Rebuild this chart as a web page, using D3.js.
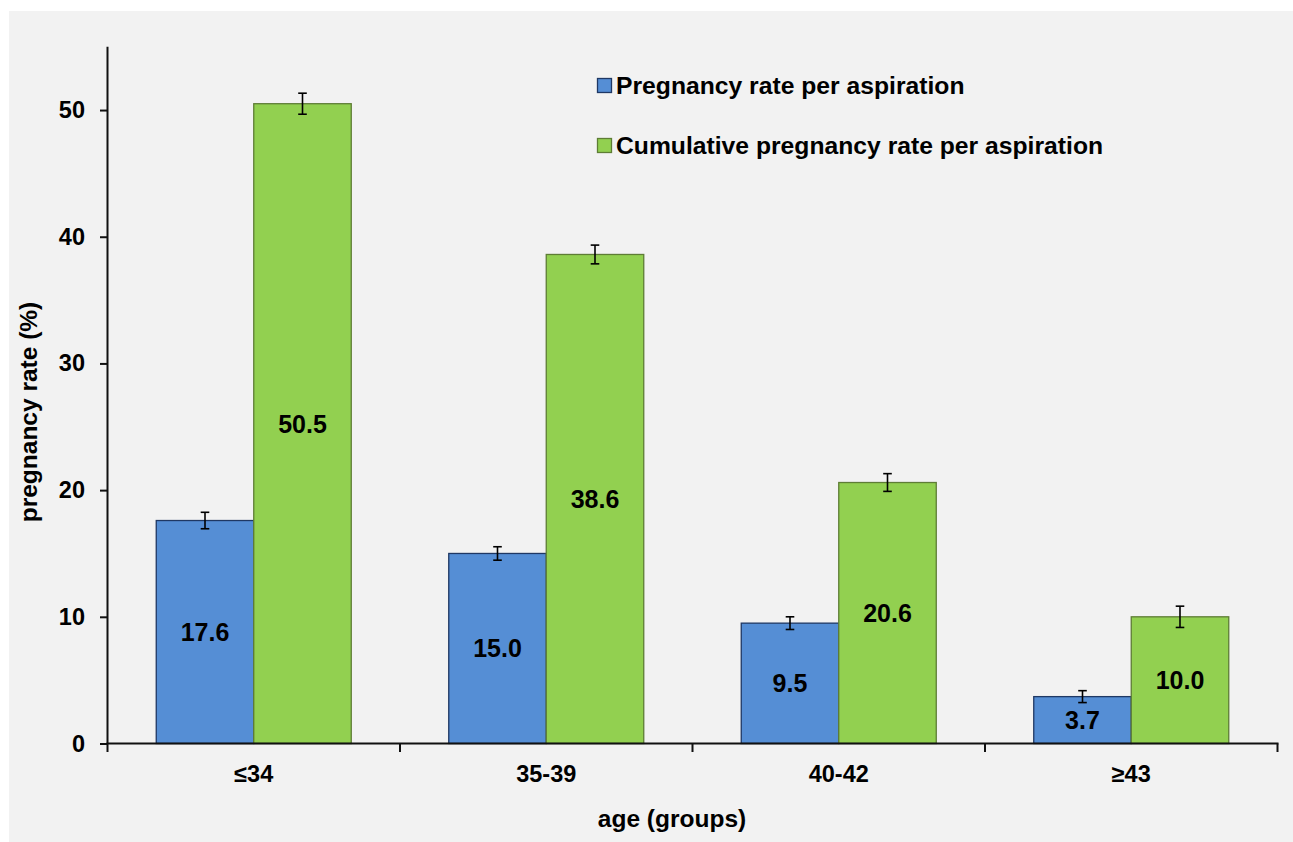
<!DOCTYPE html>
<html><head><meta charset="utf-8">
<script src="https://cdn.jsdelivr.net/npm/d3@7"></script>
<style>
html,body{margin:0;padding:0;background:#fff;}
text{font-family:"Liberation Sans",Arial,sans-serif;font-weight:bold;fill:#000;}
</style></head>
<body>
<svg id="chart" width="1293" height="842"></svg>
<script>
const categories = ["≤34", "35-39", "40-42", "≥43"];
const seriesNames = ["Pregnancy rate per aspiration", "Cumulative pregnancy rate per aspiration"];
const pregnancyRate = [17.6, 15.0, 9.5, 3.7];
const cumulativeRate = [50.5, 38.6, 20.6, 10.0];
const pregnancyErr = [0.65, 0.53, 0.5, 0.47];
const cumulativeErr = [0.83, 0.74, 0.7, 0.84];
const yTicks = [0, 10, 20, 30, 40, 50];
const fills = ["#558ed5", "#92d050"];
const strokes = ["#1f3864", "#5e7d35"];

(function () {
const svg = d3.select("#chart");
svg.append("rect").attr("x", 9).attr("y", 11).attr("width", 1284).attr("height", 831).attr("fill", "#f2f2f2");

const pLeft = 107.5, pRight = 1277.5, pTop = 46.7, pBottom = 743.5;
const x0 = d3.scaleBand().domain(categories).range([pLeft, pRight]).padding(0);
const bw = x0.bandwidth();
const x1 = d3.scaleBand().domain([0, 1]).range([bw / 6, bw * 5 / 6]).padding(0);
const y = d3.scaleLinear().domain([0, 55]).range([pBottom, pTop]);

const data = categories.map((c, i) => ({
  cat: c,
  vals: [
    { s: 0, v: pregnancyRate[i], e: pregnancyErr[i] },
    { s: 1, v: cumulativeRate[i], e: cumulativeErr[i] }
  ]
}));

const groups = svg.append("g").selectAll("g").data(data).join("g")
  .attr("transform", d => `translate(${x0(d.cat)},0)`);

groups.selectAll("rect").data(d => d.vals).join("rect")
  .attr("x", d => x1(d.s))
  .attr("y", d => y(d.v))
  .attr("width", x1.bandwidth())
  .attr("height", d => y(0) - y(d.v))
  .attr("fill", d => fills[d.s])
  .attr("stroke", d => strokes[d.s])
  .attr("stroke-width", 1.3);

// error bars
const eb = groups.selectAll("g.err").data(d => d.vals).join("g").attr("class", "err");
eb.append("line")
  .attr("x1", d => x1(d.s) + x1.bandwidth() / 2).attr("x2", d => x1(d.s) + x1.bandwidth() / 2)
  .attr("y1", d => y(d.v + d.e)).attr("y2", d => y(d.v - d.e))
  .attr("stroke", "#000").attr("stroke-width", 1.6);
eb.selectAll("line.cap").data(d => [{d, t: d.v + d.e}, {d, t: d.v - d.e}]).join("line").attr("class", "cap")
  .attr("x1", o => x1(o.d.s) + x1.bandwidth() / 2 - 4.3).attr("x2", o => x1(o.d.s) + x1.bandwidth() / 2 + 4.3)
  .attr("y1", o => y(o.t)).attr("y2", o => y(o.t))
  .attr("stroke", "#000").attr("stroke-width", 1.6);

// value labels
groups.selectAll("text.val").data(d => d.vals).join("text").attr("class", "val")
  .attr("x", d => x1(d.s) + x1.bandwidth() / 2)
  .attr("y", d => (y(d.v) + y(0)) / 2)
  .attr("dy", "0.36em")
  .attr("text-anchor", "middle")
  .style("font-size", "25px")
  .text(d => d.v.toFixed(1));

// y axis
const yAxis = svg.append("g").attr("transform", `translate(${pLeft},0)`)
  .call(d3.axisLeft(y).tickValues(yTicks).tickSize(7.5).tickPadding(15).tickSizeOuter(0));
yAxis.select(".domain").attr("stroke", "#111").attr("stroke-width", 2).attr("d", `M0,${pTop}V${pBottom}`);
yAxis.selectAll(".tick line").attr("stroke", "#111").attr("stroke-width", 2);
yAxis.selectAll(".tick text").style("font-size", "23.5px").style("font-family", "Liberation Sans, Arial, sans-serif").style("font-weight", "bold").attr("fill", "#000");

// x axis
const xAxisG = svg.append("g").attr("transform", `translate(0,${pBottom})`);
xAxisG.append("line").attr("x1", pLeft - 1).attr("x2", pRight + 1).attr("y1", 0).attr("y2", 0)
  .attr("stroke", "#111").attr("stroke-width", 2);
const bounds = categories.map(c => x0(c)).concat([x0(categories[categories.length - 1]) + bw]);
xAxisG.selectAll("line.tk").data(bounds).join("line").attr("class", "tk")
  .attr("x1", d => d).attr("x2", d => d).attr("y1", 0).attr("y2", 8.5)
  .attr("stroke", "#111").attr("stroke-width", 2);
xAxisG.selectAll("text.cl").data(categories).join("text").attr("class", "cl")
  .attr("x", d => x0(d) + bw / 2).attr("y", 38.5)
  .attr("text-anchor", "middle").style("font-size", "23.5px")
  .text(d => d);

// axis titles
svg.append("text").attr("transform", "translate(37,412) rotate(-90)")
  .attr("text-anchor", "middle").style("font-size", "24.5px").text("pregnancy rate (%)");
svg.append("text").attr("x", 672).attr("y", 827)
  .attr("text-anchor", "middle").style("font-size", "24.5px").text("age (groups)");

// legend
const legend = svg.append("g");
const legY = [94, 154];
seriesNames.forEach((n, i) => {
  legend.append("rect").attr("x", 597.5).attr("y", legY[i] - 15.5).attr("width", 14).attr("height", 14)
    .attr("fill", fills[i]).attr("stroke", strokes[i]).attr("stroke-width", 1.3);
  legend.append("text").attr("x", 616).attr("y", legY[i]).style("font-size", "24.7px").text(n);
});
})();
</script>
</body></html>
